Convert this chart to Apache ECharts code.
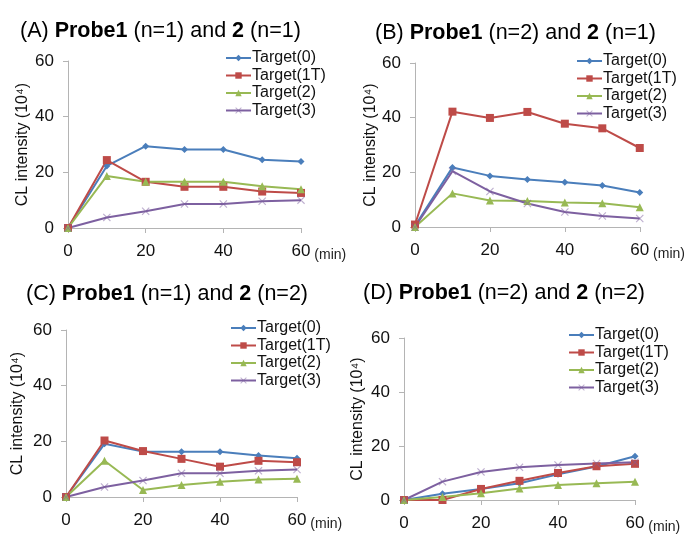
<!DOCTYPE html>
<html>
<head>
    <meta charset="utf-8">
    <title>CL intensity</title>
    <script src="https://cdn.jsdelivr.net/npm/echarts@6/dist/echarts.min.js"></script>
    <style>
        html, body { margin: 0; padding: 0; background: #fff; }
        #chart1 { width: 686px; height: 536px; }
    </style>
</head>
<body>
<div id="chart1"></div>
<script>
    // time points (min)
    var times = [0, 10, 20, 30, 40, 50, 60];
    var targets = ['Target(0)', 'Target(1T)', 'Target(2)', 'Target(3)'];

    // (A) Probe1 (n=1) and 2 (n=1)
    var a_t0  = [0, 22.3, 29.4, 28.2, 28.2, 24.5, 23.9];
    var a_t1T = [0, 24.4, 16.6, 14.8, 14.8, 13.1, 12.6];
    var a_t2  = [0, 18.7, 16.6, 16.6, 16.6, 15.0, 13.9];
    var a_t3  = [0, 3.8, 6.0, 8.6, 8.6, 9.6, 10.0];

    // (B) Probe1 (n=2) and 2 (n=1)
    var b_t0  = [0.4, 21.8, 18.7, 17.4, 16.4, 15.2, 12.6];
    var b_t1T = [0.9, 42.2, 39.9, 42.1, 37.8, 36.1, 28.9];
    var b_t2  = [0, 12.3, 9.7, 9.5, 9.0, 8.7, 7.2];
    var b_t3  = [0, 20.4, 13.0, 8.6, 5.5, 4.0, 3.1];

    // (C) Probe1 (n=1) and 2 (n=2)
    var c_t0  = [0, 19.1, 16.3, 16.3, 16.3, 14.9, 13.9];
    var c_t1T = [0, 20.3, 16.5, 13.7, 10.9, 13.0, 12.5];
    var c_t2  = [0, 13.0, 2.5, 4.3, 5.5, 6.3, 6.6];
    var c_t3  = [0, 3.6, 5.9, 8.5, 8.5, 9.4, 9.9];

    // (D) Probe1 (n=2) and 2 (n=2)
    var d_t0  = [0, 2.3, 4.1, 6.2, 9.5, 12.4, 16.2];
    var d_t1T = [0, 0, 4.1, 7.1, 10.0, 12.5, 13.4];
    var d_t2  = [0, 1.1, 2.5, 4.3, 5.6, 6.2, 6.8];
    var d_t3  = [0, 6.8, 10.4, 12.1, 13.0, 13.5, 14.0];

    var panelTags = ['(A) ', '(B) ', '(C) ', '(D) '];
    var probe1N = ['1', '2', '1', '2'];
    var probe2N = ['1', '1', '2', '2'];
    var yTicks = [0, 20, 40, 60];
    var xTicks = [0, 20, 40, 60];

    var panelData = [
        [a_t0, a_t1T, a_t2, a_t3],
        [b_t0, b_t1T, b_t2, b_t3],
        [c_t0, c_t1T, c_t2, c_t3],
        [d_t0, d_t1T, d_t2, d_t3]
    ];

    // layout of the four panels
    var grids = [
        {left: 68,  top: 61,  width: 233, height: 167},
        {left: 415, top: 63,  width: 227, height: 164},
        {left: 66,  top: 330, width: 231, height: 167},
        {left: 404, top: 338, width: 231, height: 166}
    ];
    var titlePos = [[20, 20], [375, 22], [26, 283], [363, 282]];
    var legendPos = [[225, 50], [576, 53], [230, 320], [568, 327]];
    var nameGaps = [37, 33, 40, 38];

    var colors = ['#4a7ebb', '#be4b48', '#98b954', '#7d60a0'];
    var crossPath = 'path://M1,0 L5,4 L9,0 L10,1 L6,5 L10,9 L9,10 L5,6 L1,10 L0,9 L4,5 L0,1 Z';
    var symbols = ['diamond', 'rect', 'triangle', crossPath];
    var symbolSizes = [7, 8, 8, 8];
    var axisGray = '#b4b4b4';
    var font = 'Liberation Sans, Arial';

    var title = [], legend = [], xAxis = [], yAxis = [], series = [];

    for (var p = 0; p < 4; p++) {
        title.push({
            left: titlePos[p][0],
            top: titlePos[p][1],
            padding: 0,
            text: '{n|' + panelTags[p] + '}{b|Probe1}{n| (n=' + probe1N[p] + ') and }{b|2}{n| (n=' + probe2N[p] + ')}',
            textStyle: {
                fontWeight: 'normal',
                rich: {
                    n: {fontFamily: font, fontSize: 21.5, fontWeight: 'normal', color: '#000'},
                    b: {fontFamily: font, fontSize: 21.5, fontWeight: 'bold', color: '#000'}
                }
            }
        });

        legend.push({
            left: legendPos[p][0],
            top: legendPos[p][1],
            orient: 'vertical',
            padding: 0,
            itemGap: 1.5,
            itemWidth: 25,
            itemHeight: 8,
            data: targets.slice(),
            textStyle: {fontFamily: font, fontSize: 16, color: '#111', padding: [0, 0, 0, -4]}
        });

        xAxis.push({
            gridIndex: p,
            type: 'value',
            min: xTicks[0],
            max: xTicks[xTicks.length - 1],
            interval: 20,
            name: '\n(min)',
            nameLocation: 'end',
            nameGap: 6,
            nameTextStyle: {fontFamily: font, fontSize: 14, color: '#222', verticalAlign: 'top', lineHeight: 18},
            axisLine: {lineStyle: {color: axisGray, width: 1}},
            axisTick: {show: true, length: 5, lineStyle: {color: axisGray}},
            axisLabel: {fontFamily: font, fontSize: 17, color: '#111', margin: 15},
            splitLine: {show: false}
        });

        yAxis.push({
            gridIndex: p,
            type: 'value',
            min: yTicks[0],
            max: yTicks[yTicks.length - 1],
            interval: 20,
            name: 'CL intensity (10⁴)',
            nameLocation: 'middle',
            nameGap: nameGaps[p],
            nameTextStyle: {fontFamily: font, fontSize: 16, color: '#111'},
            axisLine: {show: true, lineStyle: {color: axisGray, width: 1}},
            axisTick: {show: true, length: 5, lineStyle: {color: axisGray}},
            axisLabel: {fontFamily: font, fontSize: 17, color: '#111', margin: 14},
            splitLine: {show: false}
        });

        for (var s = 0; s < 4; s++) {
            series.push({
                name: targets[s],
                type: 'line',
                xAxisIndex: p,
                yAxisIndex: p,
                data: times.map(function (t, i) {
                    return [t, panelData[p][s][i]];
                }),
                symbol: symbols[s],
                symbolSize: symbolSizes[s],
                showAllSymbol: true,
                color: colors[s],
                lineStyle: {width: 2, color: colors[s]},
                itemStyle: {color: colors[s], opacity: s === 3 ? 0.5 : 1},
                emphasis: {disabled: true},
                animation: false
            });
        }
    }

    var myChart1 = echarts.init(document.getElementById('chart1'));
    myChart1.setOption({
        backgroundColor: '#fff',
        animation: false,
        color: colors,
        title: title,
        legend: legend,
        grid: grids,
        xAxis: xAxis,
        yAxis: yAxis,
        series: series
    });
</script>
</body>
</html>
